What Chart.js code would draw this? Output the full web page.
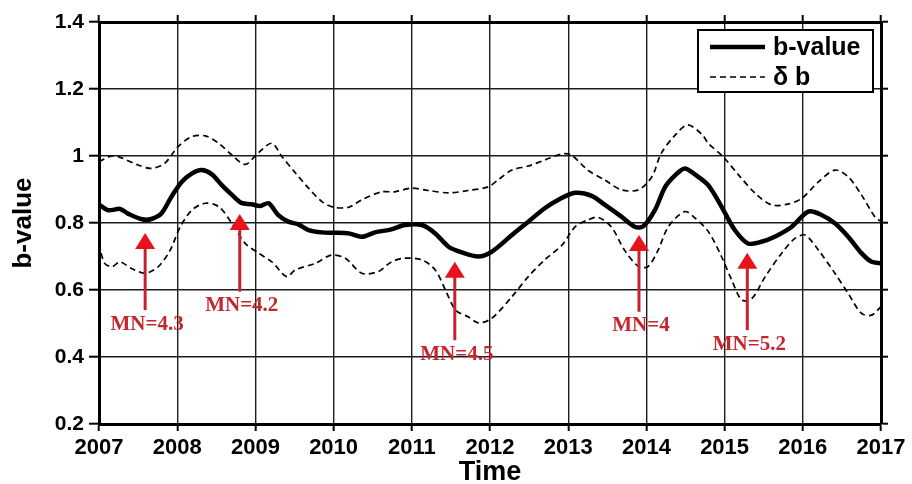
<!DOCTYPE html>
<html>
<head>
<meta charset="utf-8">
<script src="https://cdn.jsdelivr.net/npm/chart.js@4.4.1/dist/chart.umd.min.js"></script>
<style>
  html, body { margin: 0; padding: 0; background: #fff; }
  #wrap { width: 912px; height: 484px; }
</style>
</head>
<body>
<div id="wrap"><canvas id="chart" width="912" height="484"></canvas></div>
<script>
// b-value time series (decimal year, value)
const bTimes = [2007.00, 2007.12, 2007.27, 2007.37, 2007.55, 2007.67, 2007.80, 2007.93, 2008.06, 2008.19,
  2008.31, 2008.44, 2008.57, 2008.70, 2008.82, 2008.95, 2009.06, 2009.17, 2009.29, 2009.42,
  2009.55, 2009.68, 2009.85, 2010.00, 2010.19, 2010.36, 2010.53, 2010.74, 2010.91, 2011.13,
  2011.30, 2011.47, 2011.64, 2011.85, 2012.02, 2012.28, 2012.49, 2012.70, 2012.87, 2013.09,
  2013.30, 2013.47, 2013.68, 2013.85, 2013.96, 2014.11, 2014.24, 2014.37, 2014.49, 2014.62,
  2014.79, 2014.96, 2015.13, 2015.30, 2015.47, 2015.64, 2015.86, 2016.07, 2016.24, 2016.41,
  2016.58, 2016.75, 2016.88, 2017.00];
const bValues = [0.855, 0.838, 0.842, 0.828, 0.811, 0.812, 0.829, 0.880, 0.923, 0.948,
  0.958, 0.946, 0.913, 0.884, 0.860, 0.856, 0.851, 0.859, 0.824, 0.804,
  0.796, 0.779, 0.772, 0.771, 0.769, 0.759, 0.772, 0.781, 0.794, 0.794,
  0.769, 0.729, 0.712, 0.700, 0.714, 0.764, 0.804, 0.844, 0.869, 0.890,
  0.881, 0.854, 0.819, 0.789, 0.790, 0.839, 0.908, 0.943, 0.963, 0.945,
  0.913, 0.849, 0.779, 0.739, 0.744, 0.759, 0.789, 0.834, 0.824, 0.799,
  0.759, 0.710, 0.684, 0.680];

// upper uncertainty bound (b + δb)
const upperTimes = [2007.00, 2007.16, 2007.27, 2007.50, 2007.67, 2007.84, 2008.01, 2008.19, 2008.36, 2008.53,
  2008.70, 2008.87, 2009.04, 2009.21, 2009.34, 2009.51, 2009.68, 2009.85, 2010.00, 2010.19,
  2010.36, 2010.61, 2010.78, 2011.00, 2011.21, 2011.47, 2011.72, 2011.98, 2012.10, 2012.28,
  2012.49, 2012.70, 2012.92, 2013.04, 2013.25, 2013.47, 2013.68, 2013.90, 2014.07, 2014.19,
  2014.37, 2014.53, 2014.72, 2014.79, 2014.98, 2015.18, 2015.39, 2015.60, 2015.82, 2015.99,
  2016.20, 2016.41, 2016.58, 2016.75, 2016.92, 2017.00];
const upperValues = [0.983, 1.000, 0.996, 0.973, 0.963, 0.978, 1.028, 1.058, 1.060, 1.038,
  1.003, 0.975, 1.010, 1.038, 0.998, 0.950, 0.904, 0.864, 0.847, 0.847,
  0.869, 0.893, 0.893, 0.904, 0.897, 0.890, 0.897, 0.908, 0.928, 0.958,
  0.970, 0.988, 1.006, 1.003, 0.958, 0.928, 0.899, 0.899, 0.938, 1.008,
  1.063, 1.093, 1.062, 1.038, 0.998, 0.943, 0.889, 0.854, 0.857, 0.874,
  0.923, 0.958, 0.938, 0.884, 0.819, 0.804];

// lower uncertainty bound (b - δb)
const lowerTimes = [2007.00, 2007.07, 2007.17, 2007.27, 2007.41, 2007.59, 2007.76, 2007.91, 2008.04, 2008.19,
  2008.36, 2008.53, 2008.70, 2008.87, 2009.04, 2009.21, 2009.40, 2009.51, 2009.77, 2009.97,
  2010.15, 2010.36, 2010.57, 2010.74, 2010.91, 2011.13, 2011.30, 2011.43, 2011.56, 2011.72,
  2011.85, 2012.02, 2012.28, 2012.49, 2012.70, 2012.92, 2013.09, 2013.25, 2013.38, 2013.55,
  2013.72, 2013.90, 2014.02, 2014.15, 2014.28, 2014.49, 2014.62, 2014.79, 2014.96, 2015.09,
  2015.22, 2015.35, 2015.52, 2015.73, 2015.90, 2016.03, 2016.20, 2016.41, 2016.58, 2016.75,
  2016.88, 2017.00];
const lowerValues = [0.739, 0.680, 0.670, 0.684, 0.665, 0.650, 0.670, 0.719, 0.789, 0.839,
  0.859, 0.849, 0.799, 0.739, 0.710, 0.684, 0.640, 0.660, 0.680, 0.704,
  0.695, 0.650, 0.655, 0.684, 0.695, 0.690, 0.660, 0.600, 0.540, 0.520,
  0.502, 0.515, 0.580, 0.640, 0.690, 0.734, 0.789, 0.809, 0.817, 0.789,
  0.719, 0.670, 0.670, 0.719, 0.789, 0.834, 0.815, 0.775, 0.700, 0.630,
  0.570, 0.575, 0.640, 0.710, 0.754, 0.764, 0.719, 0.650, 0.590, 0.530,
  0.525, 0.550];

// axis ticks
const yearTicks = [2007, 2008, 2009, 2010, 2011, 2012, 2013, 2014, 2015, 2016, 2017];
const bTicks = [0.2, 0.4, 0.6, 0.8, 1.0, 1.2, 1.4];

// earthquake events marked with arrows (time, arrow tip, arrow tail, magnitude label)
const eventYears = [2007.59, 2008.80, 2011.55, 2013.905, 2015.29];
const eventTips = [0.770, 0.827, 0.684, 0.764, 0.711];
const eventTails = [0.540, 0.595, 0.450, 0.535, 0.480];
const eventLabels = ['MN=4.3', 'MN=4.2', 'MN=4.5', 'MN=4', 'MN=5.2'];

const SANS = '"Liberation Sans", Arial, Helvetica, sans-serif';
const SERIF = '"Liberation Serif", "Times New Roman", serif';

const toPoints = (xs, ys) => xs.map((x, i) => ({ x: x, y: ys[i] }));
const setTicks = arr => scale => { scale.ticks = arr.map(v => ({ value: v })); };

const eventArrows = {
  id: 'eventArrows',
  afterDatasetsDraw(chart) {
    const { ctx, scales: { x, y } } = chart;
    ctx.save();
    eventYears.forEach((yr, i) => {
      const px = x.getPixelForValue(yr);
      const tip = y.getPixelForValue(eventTips[i]);
      const tail = y.getPixelForValue(eventTails[i]);
      const headH = 16, headW = 20;
      ctx.strokeStyle = '#c8202c';
      ctx.lineWidth = 3;
      ctx.beginPath();
      ctx.moveTo(px, tail);
      ctx.lineTo(px, tip + headH - 1);
      ctx.stroke();
      ctx.fillStyle = '#e8121c';
      ctx.beginPath();
      ctx.moveTo(px, tip);
      ctx.lineTo(px - headW / 2, tip + headH);
      ctx.lineTo(px + headW / 2, tip + headH);
      ctx.closePath();
      ctx.fill();
      ctx.fillStyle = '#c4262e';
      ctx.font = 'bold 21px ' + SERIF;
      ctx.textAlign = 'center';
      ctx.textBaseline = 'middle';
      ctx.fillText(eventLabels[i], px + 2, tail + 14);
    });
    ctx.restore();
  }
};

const boxLegend = {
  id: 'boxLegend',
  afterDraw(chart) {
    const { ctx, chartArea } = chart;
    const sets = chart.data.datasets.slice(0, 2);
    const w = 175, h = 62;
    const left = chartArea.right - 8 - w;
    const top = chartArea.top + 8;
    ctx.save();
    ctx.fillStyle = '#fff';
    ctx.fillRect(left, top, w, h);
    ctx.strokeStyle = '#000';
    ctx.lineWidth = 2;
    ctx.strokeRect(left, top, w, h);
    sets.forEach((ds, i) => {
      const ry = top + 17 + i * 30;
      ctx.strokeStyle = ds.borderColor;
      ctx.lineWidth = ds.borderWidth;
      ctx.setLineDash(ds.borderDash || []);
      ctx.beginPath();
      ctx.moveTo(left + 12, ry);
      ctx.lineTo(left + 67, ry);
      ctx.stroke();
      ctx.setLineDash([]);
      ctx.fillStyle = '#000';
      ctx.font = 'bold 25px ' + SANS;
      ctx.textAlign = 'left';
      ctx.textBaseline = 'middle';
      ctx.fillText(ds.label, left + 75, ry + 1);
    });
    ctx.restore();
  }
};

const gridStyle = { color: '#1c1c1c', lineWidth: 1.4, tickColor: '#000', tickWidth: 2 };

new Chart(document.getElementById('chart'), {
  type: 'line',
  data: {
    datasets: [
      { label: 'b-value', data: toPoints(bTimes, bValues), borderColor: '#000', borderWidth: 4.5,
        pointRadius: 0, tension: 0.3, fill: false },
      { label: 'δ b', data: toPoints(upperTimes, upperValues), borderColor: '#000', borderWidth: 1.7,
        borderDash: [6, 4], pointRadius: 0, tension: 0.3, fill: false },
      { label: 'δ b', data: toPoints(lowerTimes, lowerValues), borderColor: '#000', borderWidth: 1.7,
        borderDash: [6, 4], pointRadius: 0, tension: 0.3, fill: false }
    ]
  },
  options: {
    responsive: false,
    animation: false,
    devicePixelRatio: 1,
    layout: { padding: 0 },
    plugins: { legend: { display: false }, tooltip: { enabled: false } },
    scales: {
      x: {
        type: 'linear', position: 'bottom', min: 2007, max: 2017,
        afterBuildTicks: setTicks(yearTicks),
        afterFit: s => { s.height = 60; },
        ticks: { color: '#000', font: { family: SANS, size: 22, weight: 'bold' }, padding: 4,
                 maxRotation: 0, callback: v => String(v) },
        grid: Object.assign({ tickLength: 7 }, gridStyle),
        border: { color: '#000', width: 3 },
        title: { display: true, text: 'Time', color: '#000',
                 font: { family: SANS, size: 27, weight: 'bold', lineHeight: 1 }, padding: { top: 0, bottom: -2 } }
      },
      x2: {
        type: 'linear', position: 'top', min: 2007, max: 2017,
        afterBuildTicks: setTicks(yearTicks),
        afterFit: s => { s.height = 22; },
        ticks: { display: false },
        grid: Object.assign({ tickLength: 7, drawOnChartArea: false }, gridStyle),
        border: { color: '#000', width: 3 }
      },
      y: {
        type: 'linear', position: 'left', min: 0.2, max: 1.4,
        afterBuildTicks: setTicks(bTicks),
        afterFit: s => { s.width = 99; },
        ticks: { color: '#000', font: { family: SANS, size: 21, weight: 'bold' }, padding: 5,
                 callback: v => String(parseFloat(v.toFixed(1))) },
        grid: Object.assign({ tickLength: 10 }, gridStyle),
        border: { color: '#000', width: 3 },
        title: { display: true, text: 'b-value', color: '#000',
                 font: { family: SANS, size: 26, weight: 'bold', lineHeight: 1.2 }, padding: { top: 8, bottom: 0 } }
      },
      y2: {
        type: 'linear', position: 'right', min: 0.2, max: 1.4,
        afterBuildTicks: setTicks(bTicks),
        afterFit: s => { s.width = 31; },
        ticks: { display: false },
        grid: Object.assign({ tickLength: 7, drawOnChartArea: false }, gridStyle),
        border: { color: '#000', width: 3 }
      }
    }
  },
  plugins: [eventArrows, boxLegend]
});
</script>
</body>
</html>
